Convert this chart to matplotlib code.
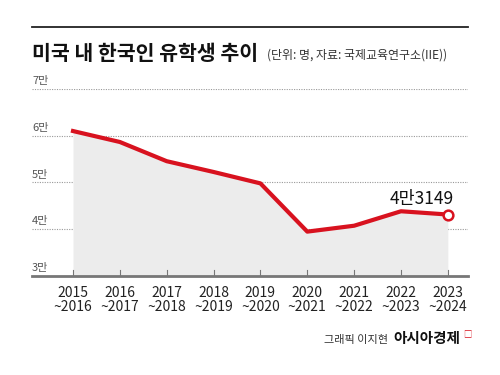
import matplotlib.pyplot as plt
from matplotlib.lines import Line2D

plt.rcParams['font.family'] = ['Noto Sans CJK KR', 'DejaVu Sans']

periods = ['2015\n~2016', '2016\n~2017', '2017\n~2018', '2018\n~2019', '2019\n~2020',
           '2020\n~2021', '2021\n~2022', '2022\n~2023', '2023\n~2024']
students = [61007, 58663, 54555, 52250, 49809, 39491, 40755, 43847, 43149]
y_ticks = [30000, 40000, 50000, 60000, 70000]
y_labels = ['3만', '4만', '5만', '6만', '7만']

red = '#d8121f'

fig = plt.figure(figsize=(5, 3.75), dpi=100)
ax = fig.add_axes([0.064, 0.264, 0.872, 0.4987])

x = list(range(len(students)))
ax.fill_between(x, students, 30000, color='#ececec', lw=0, zorder=1)
ax.plot(x, students, color=red, lw=3, solid_joinstyle='round', zorder=3)
ax.plot(x[-1], students[-1], 'o', ms=7, mfc='white', mec=red, mew=1.8, zorder=4)
ax.text(x[-1] - 0.55, students[-1] + 3300, '4만3149', ha='center', va='center',
        fontsize=12.5, color='#111111', zorder=5)

ax.set_xlim(-0.875, 8.43)
ax.set_ylim(30000, 70000)

for yv, lab in zip(y_ticks, y_labels):
    if yv > 30000:
        ax.axhline(yv, color='#999999', lw=0.8, ls=(0, (1, 1.2)), zorder=0)
    ax.text(-0.875, yv + 600, lab, ha='left', va='bottom', fontsize=8, color='#555555')

for xi in x:
    ax.plot([xi, xi], [30000, 31300], color='#777777', lw=0.8, zorder=2)

for s in ['top', 'right', 'left']:
    ax.spines[s].set_visible(False)
ax.spines['bottom'].set_color('#777777')
ax.spines['bottom'].set_linewidth(2)
ax.set_yticks([])
ax.set_xticks(x)
ax.set_xticklabels(periods, fontsize=10, color='#222222', linespacing=1.05)
ax.tick_params(axis='x', length=0, pad=7)

# title block
fig.add_artist(Line2D([0.064, 0.936], [1 - 27.3 / 375] * 2, color='#222222', lw=1.3))
fig.text(0.064, 1 - 60 / 375, '미국 내 한국인 유학생 추이', fontsize=14.8, fontweight='bold',
         color='#111111', ha='left', va='baseline')
fig.text(0.534, 1 - 59 / 375, '(단위: 명, 자료: 국제교육연구소(IIE))', fontsize=8.6,
         color='#333333', ha='left', va='baseline')

# credits
fig.text(0.776, 1 - 343 / 375, '그래픽 이지현', fontsize=8, color='#333333',
         ha='right', va='baseline')
fig.text(0.786, 1 - 343 / 375, '아시아경제', fontsize=10.5, fontweight='bold', color='#111111',
         ha='left', va='baseline')
fig.text(0.926, 1 - 336 / 375, '\u25a1', fontsize=6, color=red, ha='left', va='baseline')

fig.savefig('out.png', dpi=100, facecolor='white')
